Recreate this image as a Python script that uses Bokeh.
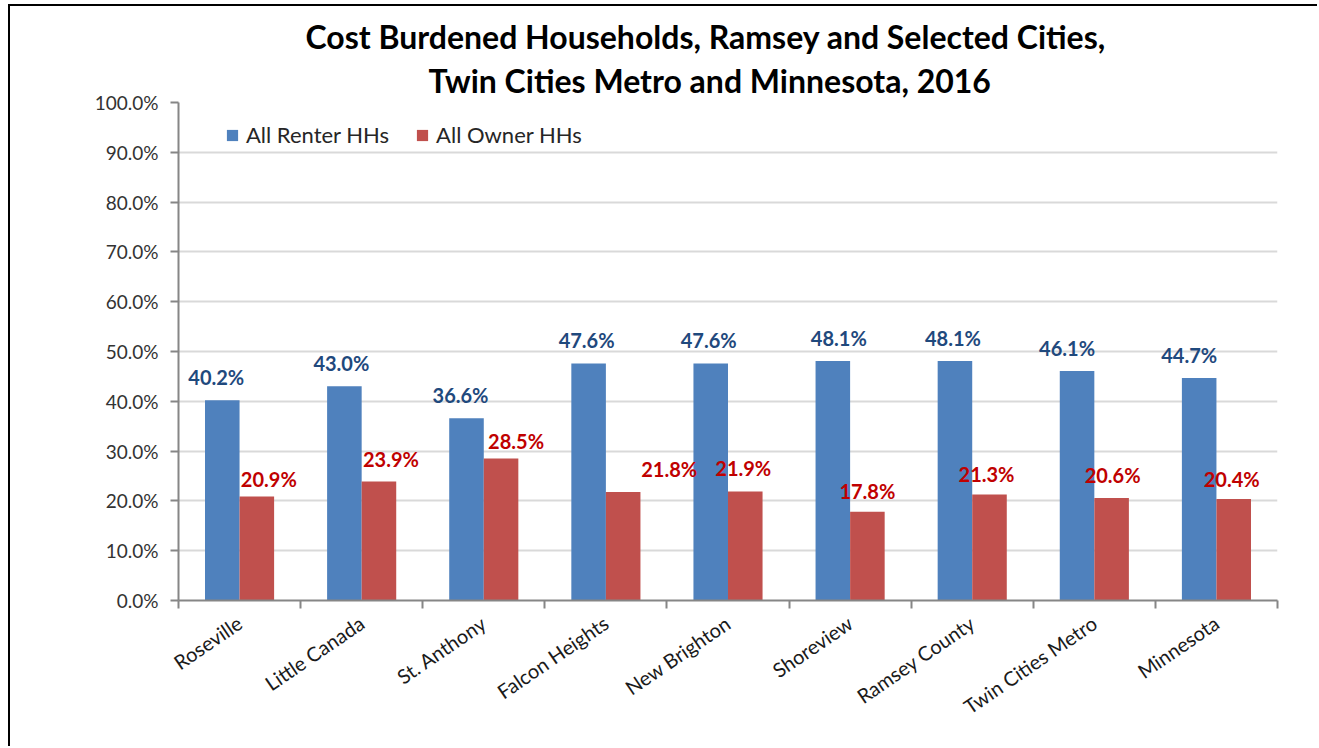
from bokeh.plotting import figure
from bokeh.models import (ColumnDataSource, FactorRange, FixedTicker, LinearAxis, CategoricalAxis,
                          PrintfTickFormatter, Legend, LegendItem, Title, CategoricalTicker)
from bokeh.transform import dodge
from bokeh.core.properties import value
from bokeh.embed import file_html
from bokeh.resources import INLINE

# ---- data ----
cities = ["Roseville", "Little Canada", "St. Anthony", "Falcon Heights", "New Brighton",
          "Shoreview", "Ramsey County", "Twin Cities Metro", "Minnesota"]
renter_pct = [40.2, 43.0, 36.6, 47.6, 47.6, 48.1, 48.1, 46.1, 44.7]
owner_pct = [20.9, 23.9, 28.5, 21.8, 21.9, 17.8, 21.3, 20.6, 20.4]
series_names = ["All Renter HHs", "All Owner HHs"]
y_ticks = [0, 10, 20, 30, 40, 50, 60, 70, 80, 90, 100]
title_lines = ["Cost Burdened Households, Ramsey and Selected Cities,",
               "Twin Cities Metro and Minnesota, 2016"]

# ---- style (label nudges in screen pixels) ----
renter_nudge_x = [-6, -3, -6, -2, -2, 6, -2, -10, -10]
renter_nudge_y = [23, 23, 23, 23, 23, 23, 23, 23, 23]
owner_nudge_x = [12, 12, 15, 46, -2, 0, -3, 1, -2]
owner_nudge_y = [17, 22, 18, 23, 23, 21, 20, 23, 20]
title_standoff = [0, 6]
title_offset = [127, 250]

BLUE = "#4F81BD"
RED = "#C0504D"
FONT = "Lato"

src = ColumnDataSource(dict(
    city=cities, renter=renter_pct, owner=owner_pct,
    renter_lbl=[f"{v:.1f}%" for v in renter_pct],
    owner_lbl=[f"{v:.1f}%" for v in owner_pct],
    rnx=renter_nudge_x, rny=[-v for v in renter_nudge_y],
    onx=owner_nudge_x, ony=[-v for v in owner_nudge_y],
))

p = figure(x_range=FactorRange(*cities, range_padding=0), y_range=(0, 100),
           width=1309, height=742, output_backend="svg", toolbar_location=None,
           x_axis_location=None, y_axis_location=None,
           min_border_left=168, min_border_right=42, min_border_top=96, min_border_bottom=148)
p.x_range.range_padding = 0
p.outline_line_color = None
p.background_fill_color = "white"
p.border_fill_color = "white"
p.styles = {"border-left": "2px solid black", "border-top": "2px solid black",
            "margin-left": "8px", "margin-top": "4px"}

bw = 0.283
r1 = p.vbar(x=dodge("city", -bw / 2, range=p.x_range), top="renter", width=bw, source=src,
            fill_color=BLUE, line_color=None)
r2 = p.vbar(x=dodge("city", bw / 2, range=p.x_range), top="owner", width=bw, source=src,
            fill_color=RED, line_color=None)

p.text(x=dodge("city", -bw / 2, range=p.x_range), y="renter", text="renter_lbl", source=src,
       x_offset="rnx", y_offset="rny", text_align="center", text_baseline="middle",
       text_font=value(FONT), text_font_style="bold", text_font_size="20px", text_color="#1F497D")
p.text(x=dodge("city", bw / 2, range=p.x_range), y="owner", text="owner_lbl", source=src,
       x_offset="onx", y_offset="ony", text_align="center", text_baseline="middle",
       text_font=value(FONT), text_font_style="bold", text_font_size="20px", text_color="#C00000")

# y axis
yax = LinearAxis(ticker=FixedTicker(ticks=y_ticks), formatter=PrintfTickFormatter(format="%.1f%%"))
yax.axis_line_color = "#868686"
yax.axis_line_width = 2
yax.major_tick_line_color = "#868686"
yax.major_tick_line_width = 2
yax.major_tick_out = 8
yax.major_tick_in = 0
yax.minor_tick_line_color = None
yax.major_label_text_font = FONT
yax.major_label_text_font_size = "19px"
yax.major_label_text_color = "#333333"
yax.major_label_standoff = 12
p.add_layout(yax, "left")

# x axis: boundary ticks
xtick_ax = LinearAxis(ticker=FixedTicker(ticks=list(range(len(cities) + 1))))
xtick_ax.axis_line_color = "#868686"
xtick_ax.axis_line_width = 2
xtick_ax.major_tick_line_color = "#868686"
xtick_ax.major_tick_line_width = 2
xtick_ax.major_tick_out = 8
xtick_ax.major_tick_in = 0
xtick_ax.minor_tick_line_color = None
xtick_ax.major_label_text_font_size = "0px"
xtick_ax.major_label_text_alpha = 0
xtick_ax.major_label_standoff = 0
p.add_layout(xtick_ax, "below")

# x axis: category labels
xlab_ax = CategoricalAxis(ticker=CategoricalTicker())
xlab_ax.axis_line_color = None
xlab_ax.major_tick_line_color = None
xlab_ax.minor_tick_line_color = None
xlab_ax.major_label_orientation = 0.6
xlab_ax.major_label_text_font = FONT
xlab_ax.major_label_text_font_size = "20px"
xlab_ax.major_label_text_color = "#1a1a1a"
xlab_ax.major_label_standoff = 6
p.add_layout(xlab_ax, "below")

p.xgrid.grid_line_color = None
p.ygrid.ticker = FixedTicker(ticks=y_ticks)
p.ygrid.grid_line_color = "#D9D9D9"
p.ygrid.grid_line_width = 2

# legend
legend = Legend(items=[LegendItem(label=series_names[0], renderers=[r1]),
                       LegendItem(label=series_names[1], renderers=[r2])],
                orientation="horizontal", location=(47, 452),
                glyph_width=14, glyph_height=14, label_standoff=7, spacing=26,
                label_text_font=FONT, label_text_font_size="22px", label_text_color="#262626",
                border_line_color=None, background_fill_alpha=0, padding=0, margin=0)
p.add_layout(legend)

# title (two lines) - later added sits further from the frame
for txt, so, off in zip(reversed(title_lines), reversed(title_standoff), reversed(title_offset)):
    p.add_layout(Title(text=txt, align="left", offset=off, standoff=so,
                       text_font=FONT, text_font_style="bold", text_font_size="32px",
                       text_color="black"), "above")

open("out.html", "w").write(file_html(p, INLINE))
